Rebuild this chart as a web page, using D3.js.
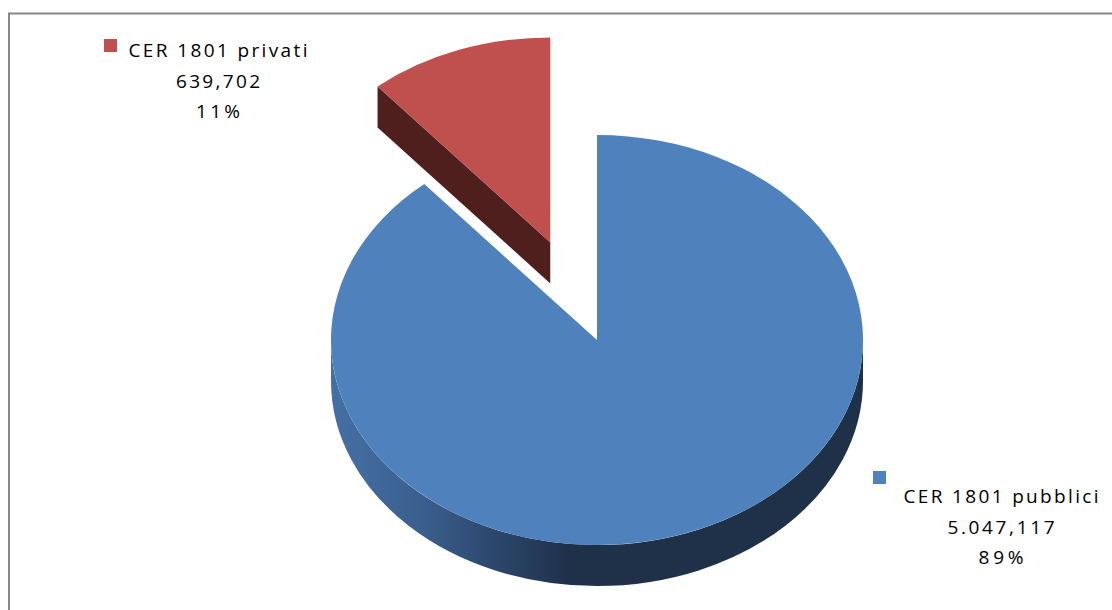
<!DOCTYPE html>
<html>
<head>
<meta charset="utf-8">
<script src="https://cdn.jsdelivr.net/npm/d3@7"></script>
<style>
  html, body { margin: 0; padding: 0; background: #fff; }
  svg { display: block; }
</style>
</head>
<body>
<div id="chart"></div>
<script>
// CER 1801 waste quantities: public vs private producers
const categories = ["CER 1801 pubblici", "CER 1801 privati"];
const values = [5047.117, 639.702];
const explodedSlices = [false, true];

const W = 1112, H = 610;
const cx = 597, cy = 340;          // pie centre (top face)
const rx = 266, ry = 205;          // top-face ellipse radii
const depth = 41;                  // thickness of the 3D pie
const explode = 135;               // radial offset of exploded slice
const tilt = ry / rx;

const topColors = ["#4f81bd", "#c0504d"];
const faceColors = ["#26405f", "#4f1f1e"];
const sideStops = [
  [["0", "#4570a5"], ["0.17", "#3a5f8e"], ["0.32", "#2b4569"], ["0.45", "#1f3049"], ["1", "#1f3049"]],
  [["0", "#a04340"], ["0.45", "#5a2422"], ["1", "#4f1f1e"]]
];

// label placement: centre x, first baseline, line widths
const labelLayout = [
  { x: 1001, y: 503, widths: [195, 107, 45], marker: [873, 471] },
  { x: 218,  y: 57,  widths: [179, 84, 44],  marker: [104, 39] }
];

const itLocale = d3.formatLocale({ decimal: ",", thousands: ".", grouping: [3], currency: ["€", ""] });
const fmtValue = itLocale.format(",.3f");
const total = d3.sum(values);

const svg = d3.select("#chart").append("svg")
  .attr("width", W).attr("height", H);

svg.append("rect").attr("width", W).attr("height", H).attr("fill", "#fff");
// chart frame (extends past right/bottom edge)
svg.append("rect")
  .attr("x", 9).attr("y", 13.5)
  .attr("width", 1300).attr("height", 800)
  .attr("fill", "none").attr("stroke", "#878787").attr("stroke-width", 2);

const defs = svg.append("defs");
sideStops.forEach((stops, i) => {
  const g = defs.append("linearGradient")
    .attr("id", "side" + i)
    .attr("gradientUnits", "userSpaceOnUse")
    .attr("x1", cx - rx).attr("x2", cx + rx)
    .attr("y1", 0).attr("y2", 0);
  stops.forEach(s => g.append("stop").attr("offset", s[0]).attr("stop-color", s[1]));
});

const arcs = d3.pie().sort(null).value(d => d)(values);
const arcGen = d3.arc().innerRadius(0).outerRadius(rx);

// projected point for angle a (clockwise from 12 o'clock), radius r, depth z
function proj(a, r, off, z) {
  return [cx + off[0] + r * Math.sin(a), cy + (off[1] - r * Math.cos(a)) * tilt + z];
}

function offsetOf(d, i) {
  if (!explodedSlices[i]) return [0, 0];
  const m = (d.startAngle + d.endAngle) / 2;
  return [explode * Math.sin(m), -explode * Math.cos(m)];
}

arcs.forEach((d, i) => {
  const off = offsetOf(d, i);
  const g = svg.append("g");

  // outer curved wall (visible between 90° and 270°)
  const a0 = Math.max(d.startAngle, Math.PI / 2);
  const a1 = Math.min(d.endAngle, 3 * Math.PI / 2);
  if (a1 > a0) {
    const n = 4;
    const steps = d3.range(n + 1).map(k => a0 + (a1 - a0) * k / n);
    let p = "M" + proj(steps[0], rx, off, 0).join(",");
    for (let k = 1; k <= n; k++) p += `A${rx},${ry} 0 0 1 ${proj(steps[k], rx, off, 0).join(",")}`;
    p += "L" + proj(steps[n], rx, off, depth).join(",");
    for (let k = n - 1; k >= 0; k--) p += `A${rx},${ry} 0 0 0 ${proj(steps[k], rx, off, depth).join(",")}`;
    p += "Z";
    g.append("path").attr("d", p).attr("fill", `url(#side${i})`);
  }

  // radial cut faces facing the viewer
  [[d.startAngle, -1], [d.endAngle, 1]].forEach(([a, s]) => {
    const ny = s * Math.sin(a);
    if (ny > 1e-6) {
      const c0 = proj(a, 0, off, 0), o0 = proj(a, rx, off, 0);
      const o1 = proj(a, rx, off, depth), c1 = proj(a, 0, off, depth);
      g.append("path")
        .attr("d", `M${c0}L${o0}L${o1}L${c1}Z`)
        .attr("fill", faceColors[i]);
    }
  });

  // top face
  g.append("path")
    .attr("transform", `translate(${cx + off[0]},${cy + off[1] * tilt}) scale(1,${tilt})`)
    .attr("d", arcGen(d))
    .attr("fill", topColors[i]);
});

// data labels with legend keys
const lineGap = [0, 31, 61];
arcs.forEach((d, i) => {
  const L = labelLayout[i];
  svg.append("rect")
    .attr("x", L.marker[0]).attr("y", L.marker[1])
    .attr("width", 13).attr("height", 13)
    .attr("fill", topColors[i]);
  const lines = [
    categories[i],
    fmtValue(d.data),
    Math.round(d.data / total * 100) + "%"
  ];
  lines.forEach((t, k) => {
    svg.append("text")
      .attr("x", L.x).attr("y", L.y + lineGap[k])
      .attr("text-anchor", "middle")
      .attr("font-family", "'Open Sans', 'Liberation Sans', sans-serif")
      .attr("font-size", 19)
      .attr("fill", "#000")
      .attr("textLength", L.widths[k])
      .attr("lengthAdjust", "spacing")
      .text(t);
  });
});
</script>
</body>
</html>
